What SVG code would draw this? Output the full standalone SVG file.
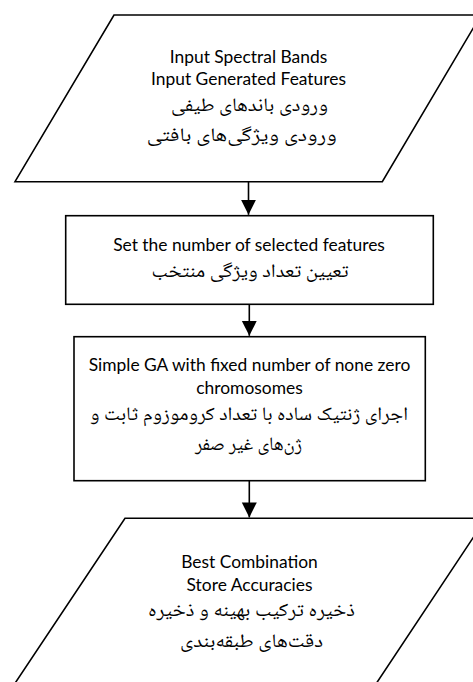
<svg xmlns="http://www.w3.org/2000/svg" width="473" height="682" viewBox="0 0 473 682">
<defs>
<style>
.shape{fill:#fff;stroke:#000;stroke-width:1.6;stroke-linejoin:miter}
.en{font-family:Lato,"Liberation Sans",sans-serif;font-size:17.4px;fill:#000;text-anchor:middle}
.fa{font-family:"Noto Naskh Arabic","Noto Sans Arabic","DejaVu Sans",sans-serif;font-size:19px;fill:#000;text-anchor:middle;direction:rtl}
.conn{stroke:#000;stroke-width:1.6;fill:none}
</style>
<marker id="arrow" markerUnits="userSpaceOnUse" markerWidth="16" markerHeight="16" viewBox="0 0 16 16" refX="15" refY="8" orient="auto">
<path d="M0,0.5 L15,8 L0,15.5 Z" fill="#000"/>
</marker>
</defs>
<rect width="473" height="682" fill="#fff"/>
<g id="input">
<polygon class="shape" points="114,15 481,15 382.3,181.7 15,181.7"/>
<text class="en" x="248.5" y="62.5">Input Spectral Bands</text>
<text class="en" x="248.5" y="84.5">Input Generated Features</text>
<text class="fa" x="249.4" y="110.5" textLength="157" lengthAdjust="spacingAndGlyphs">ورودی باندهای طیفی</text>
<text class="fa" x="241.7" y="140.5" textLength="190" lengthAdjust="spacingAndGlyphs">ورودی ویژگی‌های بافتی</text>
</g>
<g id="set-number">
<rect class="shape" x="65.7" y="215.7" width="367.6" height="88.6"/>
<text class="en" x="249" y="250.7">Set the number of selected features</text>
<text class="fa" x="250" y="276.7" textLength="197" lengthAdjust="spacingAndGlyphs">تعیین تعداد ویژگی منتخب</text>
</g>
<g id="simple-ga">
<rect class="shape" x="74" y="336.7" width="351.3" height="144"/>
<text class="en" x="249.5" y="370.7">Simple GA with fixed number of none zero</text>
<text class="en" x="249.5" y="394">chromosomes</text>
<text class="fa" x="249" y="420" textLength="318" lengthAdjust="spacingAndGlyphs">اجرای ژنتیک ساده با تعداد کروموزوم ثابت و</text>
<text class="fa" x="248.5" y="450" textLength="107" lengthAdjust="spacingAndGlyphs">ژن‌های غیر صفر</text>
</g>
<g id="output">
<polygon class="shape" points="125,518.3 486,518.3 352,720 -9.5,720"/>
<text class="en" x="249.5" y="568.3">Best Combination</text>
<text class="en" x="249.5" y="591">Store Accuracies</text>
<text class="fa" x="251.5" y="616" textLength="207" lengthAdjust="spacingAndGlyphs">ذخیره ترکیب بهینه و ذخیره</text>
<text class="fa" x="251.5" y="646.7" textLength="143" lengthAdjust="spacingAndGlyphs">دقت‌های طبقه‌بندی</text>
</g>
<g id="connectors">
<line class="conn" x1="248.5" y1="181.7" x2="248.5" y2="214.8" marker-end="url(#arrow)"/>
<line class="conn" x1="249.3" y1="304.3" x2="249.3" y2="335.8" marker-end="url(#arrow)"/>
<line class="conn" x1="249.3" y1="480.7" x2="249.3" y2="517.4" marker-end="url(#arrow)"/>
</g>
</svg>
